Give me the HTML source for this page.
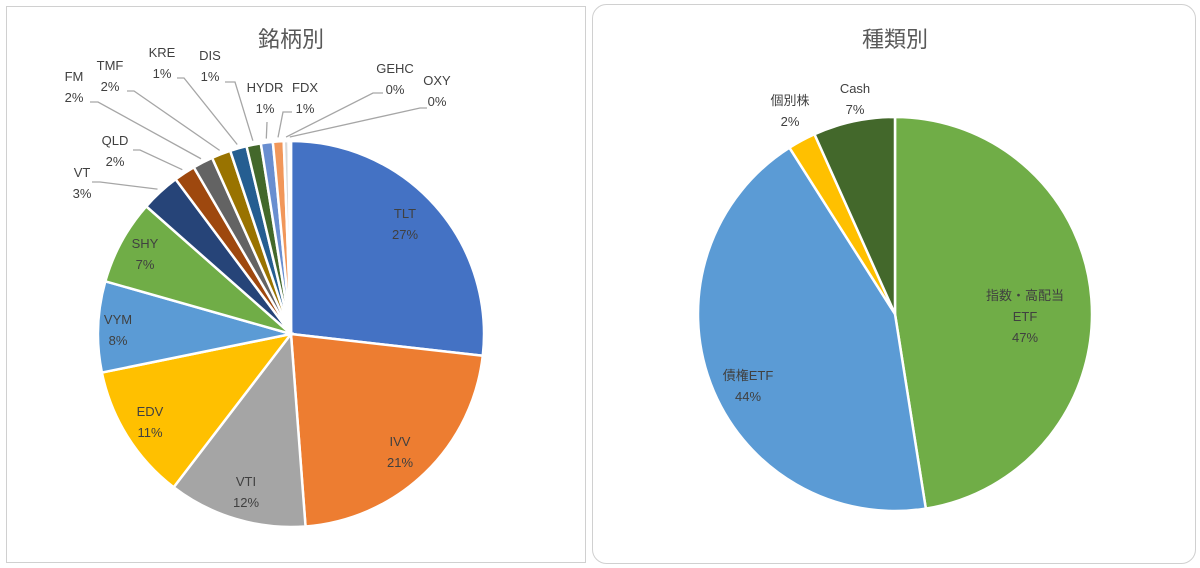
<!DOCTYPE html>
<html><head><meta charset="utf-8"><style>
body{margin:0;background:#fff;width:1200px;height:568px;overflow:hidden;font-family:"Liberation Sans","Noto Sans CJK JP",sans-serif}
svg{position:absolute;left:0;top:0}
text{font-family:"Liberation Sans","Noto Sans CJK JP",sans-serif;fill:#404040;font-size:13px}
.t{font-size:22px;fill:#595959}
</style></head><body>
<svg width="1200" height="568">
<rect x="6.5" y="6.5" width="579" height="556" fill="#fff" stroke="#d0d0d0"/>
<rect x="592.5" y="4.5" width="603" height="559" rx="14" fill="#fff" stroke="#d0d0d0"/>
<text class="t" x="291" y="47" text-anchor="middle">銘柄別</text>
<text class="t" x="895" y="47" text-anchor="middle">種類別</text>
<g id="left"></g><g id="right"></g><g id="labels"></g>
</svg>
<script>
const leftCats=["TLT","IVV","VTI","EDV","VYM","SHY","VT","QLD","FM","TMF","KRE","DIS","HYDR","FDX","GEHC","OXY"];
const leftVals=[26.8,22.0,11.6,11.4,7.6,7.1,3.3,1.8,1.7,1.6,1.4,1.2,1.0,0.9,0.4,0.2];
const leftPct=["27%","21%","12%","11%","8%","7%","3%","2%","2%","2%","1%","1%","1%","1%","0%","0%"];
const rightCats=["指数・高配当ETF","債権ETF","個別株","Cash"];
const rightVals=[47.5,43.5,2.3,6.7];
const rightPct=["47%","44%","2%","7%"];
const leftColors=["#4472C4","#ED7D31","#A5A5A5","#FFC000","#5B9BD5","#70AD47","#264478","#9E480E","#636363","#997300","#255E91","#43682B","#698ED0","#F1975A","#D9D9D9","#FFCD33"];
const rightColors=["#70AD47","#5B9BD5","#FFC000","#43682B"];
const NS="http://www.w3.org/2000/svg";
function pt(cx,cy,r,a){return [cx+r*Math.sin(a),cy-r*Math.cos(a)];}
function pie(g,cats,vals,colors,cx,cy,r){
  const tot=vals.reduce((a,b)=>a+b,0);let a0=0;const mids=[];
  vals.forEach((v,i)=>{const a1=a0+v/tot*2*Math.PI;
    const p0=pt(cx,cy,r,a0),p1=pt(cx,cy,r,a1);
    const p=document.createElementNS(NS,"path");
    p.setAttribute("d",`M${cx},${cy}L${p0[0]},${p0[1]}A${r},${r} 0 ${a1-a0>Math.PI?1:0} 1 ${p1[0]},${p1[1]}Z`);
    p.setAttribute("fill",colors[i]);p.setAttribute("stroke","#fff");p.setAttribute("stroke-width","2.5");
    
    
    g.appendChild(p);mids.push((a0+a1)/2);a0=a1;});
  return mids;
}
const lm=pie(document.getElementById("left"),leftCats,leftVals,leftColors,291,334,193);
const rm=pie(document.getElementById("right"),rightCats,rightVals,rightColors,895,314,197);
const L=document.getElementById("labels");
// label positions [x,y of first line]
const lpos=[[405,218],[400,446],[246,486],[150,416],[118,324],[145,248],[82,177],[115,145],[74,81],[110,70],[162,57],[210,60],[265,92],[305,92],[395,73],[437,85]];
// leader start points (near label), null = inside
const lead=[null,null,null,null,null,null,[[92,182],[100,182]],[[133,150],[140,150]],[[90,102],[98,102]],[[127,91],[134,91]],[[177,78],[184,78]],[[225,82],[235,82]],[[267,122],[267,122]],[[292,112],[283,112]],[[383,93],[373,93]],[[427,108],[420,108]]];
function label(x,y,lines,name){lines.forEach((s,k)=>{const t=document.createElementNS(NS,"text");
  t.setAttribute("x",x);t.setAttribute("y",y+k*21);t.setAttribute("text-anchor","middle");t.textContent=s;
  
  
  L.appendChild(t);});}
leftCats.forEach((c,i)=>{
  label(lpos[i][0],lpos[i][1],[c,leftPct[i]],c.toLowerCase());
  if(lead[i]){const e=pt(291,334,197,lm[i]);
    const pl=document.createElementNS(NS,"polyline");
    pl.setAttribute("points",`${lead[i][0]} ${lead[i][1]} ${e[0]},${e[1]}`);
    pl.setAttribute("fill","none");pl.setAttribute("stroke","#a6a6a6");pl.setAttribute("stroke-width","1.3");
    
    
    L.appendChild(pl);}
});
label(1025,300,["指数・高配当","ETF",rightPct[0]],"etf");
label(748,380,["債権ETF",rightPct[1]],"bond-etf");
label(790,105,["個別株",rightPct[2]],"stocks");
label(855,93,["Cash",rightPct[3]],"cash");
</script>
</body></html>
